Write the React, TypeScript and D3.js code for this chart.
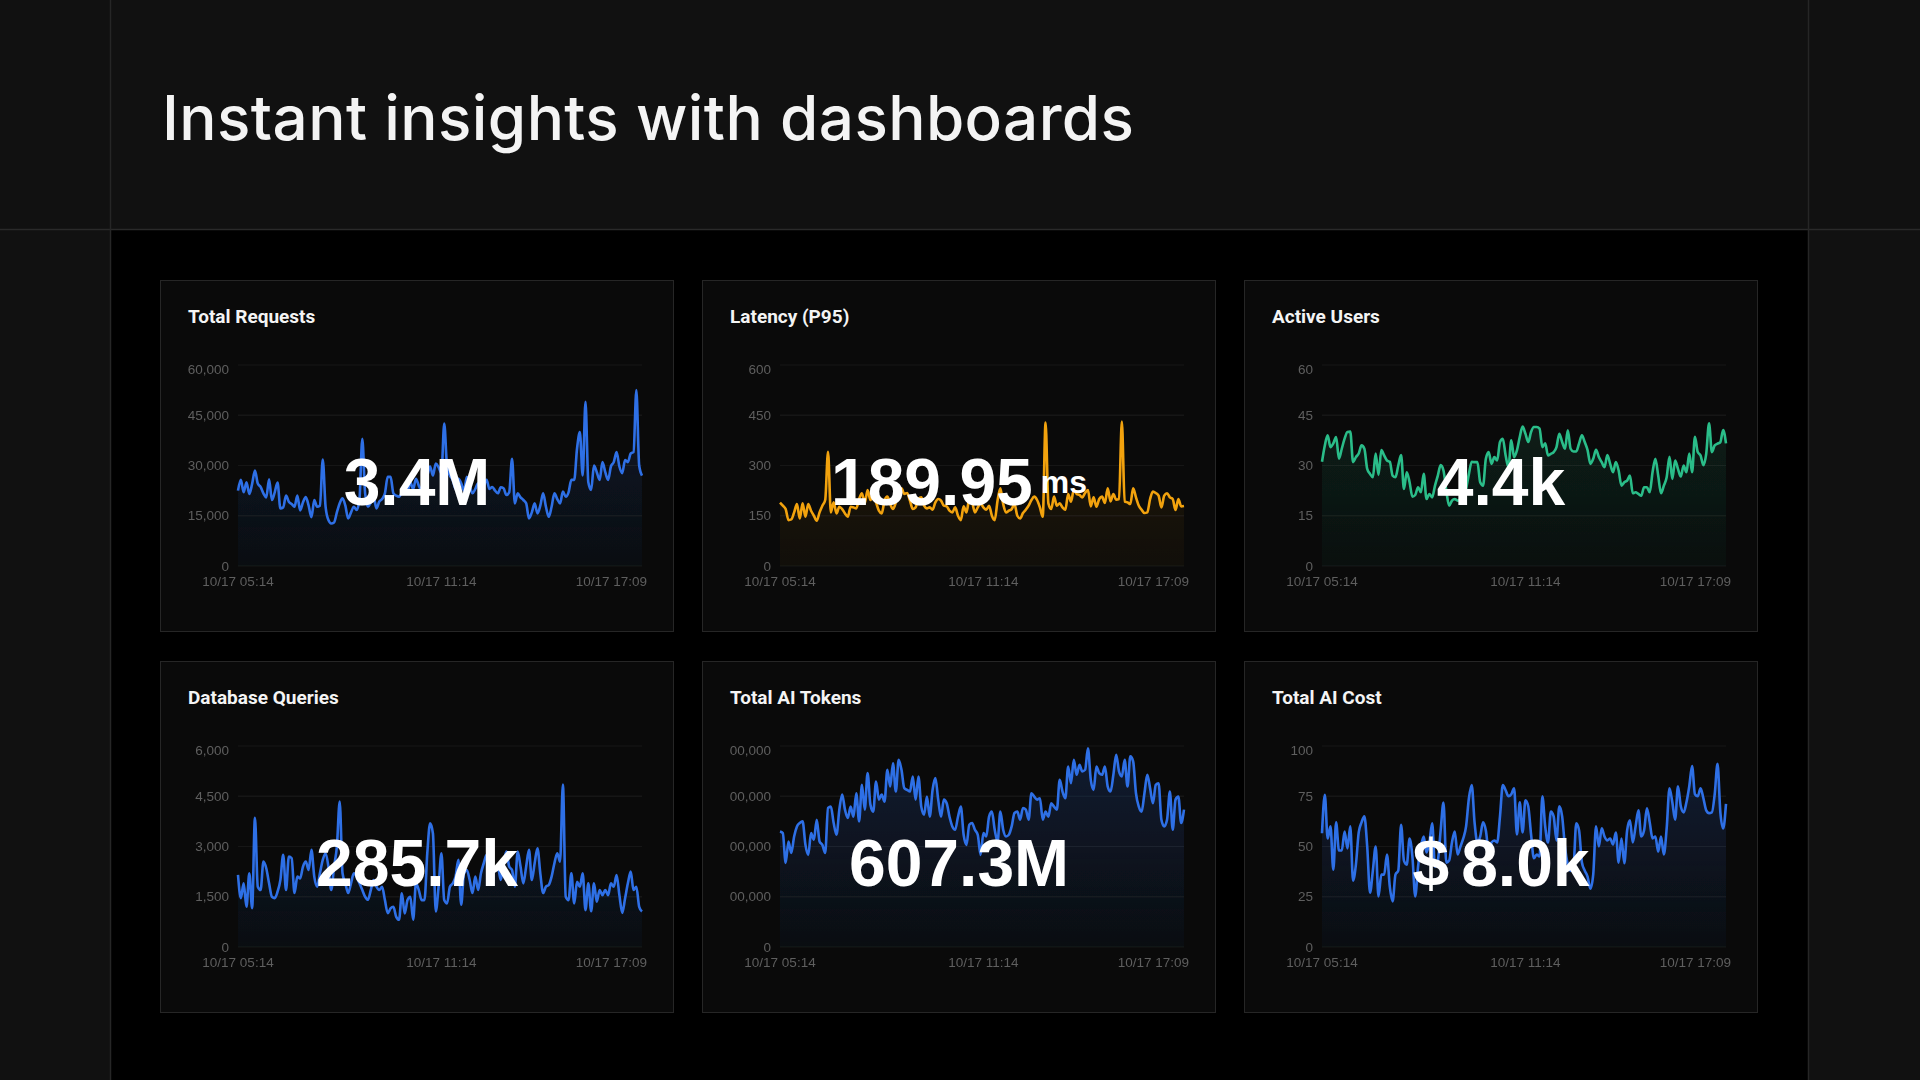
import React from "react";
import * as d3 from "d3";

const W = 1920;
const H = 1080;

// ---- data (144 points, 5-minute steps from 10/17 05:14 to 17:09) ----
const requestsK = [
  22.5, 25.7, 22, 25, 21.5, 24.5, 28.5, 24.6, 23.6, 21.7,
  20.5, 25.9, 19.7, 22, 24.9, 17.2, 17.5, 21, 19.2, 18.5,
  17.7, 21, 16.6, 19, 20.6, 18, 14.6, 19.7, 17.7, 18,
  31.8, 17.7, 13.7, 12.7, 13, 16, 18.7, 20.2, 18, 14.2,
  16, 17.7, 16.7, 20, 38, 21.7, 17.7, 19, 20.7, 17.2,
  19.2, 20, 21.7, 26.6, 26.6, 21.7, 21, 20.7, 22, 24,
  22.5, 25, 23, 26, 24, 22.5, 25.5, 27, 29.7, 27,
  30.6, 29.5, 27.7, 42.5, 29.7, 27, 25.7, 23, 26, 24.7,
  22.5, 26.6, 24, 21.7, 23, 24.7, 22.5, 24, 25.7, 23,
  23.6, 22.5, 21.7, 23.5, 23.2, 21.2, 22, 32, 18.7, 21.7,
  20.5, 19.7, 18.7, 14.2, 16, 18.7, 15.7, 18, 21.7, 17.7,
  14.7, 17.7, 21.7, 20, 18.7, 22.2, 20.7, 22, 25.7, 25.7,
  35, 40, 27, 49, 25, 22.7, 30, 28, 25.7, 31,
  28, 25.7, 29.7, 31, 34, 29.7, 27.7, 31.6, 31, 33.6,
  34, 52.5, 30, 27,
];

const latencyMs = [
  189, 180, 170, 137, 139, 160, 185, 142, 187, 147,
  185, 165, 150, 135, 160, 180, 197, 341, 160, 190,
  157, 177, 170, 157, 147, 177, 175, 172, 200, 217,
  187, 227, 197, 215, 190, 165, 157, 195, 207, 185,
  170, 190, 225, 232, 215, 218, 195, 170, 175, 200,
  205, 180, 172, 175, 168, 190, 200, 195, 180, 178,
  165, 160, 175, 150, 137, 178, 160, 200, 190, 160,
  175, 187, 175, 168, 180, 150, 137, 195, 232, 185,
  160, 165, 170, 185, 150, 142, 158, 168, 180, 197,
  207, 197, 175, 147, 428, 187, 170, 207, 180, 187,
  175, 168, 215, 192, 227, 215, 212, 205, 218, 227,
  178, 205, 177, 200, 207, 188, 232, 193, 215, 198,
  200, 431, 192, 190, 185, 232, 205, 180, 168, 158,
  160, 200, 222, 218, 210, 175, 210, 217, 205, 200,
  167, 200, 178, 179,
];

const activeUsers = [
  31.1, 36, 39, 35.5, 36.6, 38.5, 32, 35, 38, 40,
  40.1, 31, 32.5, 33.6, 36, 35, 29, 27.5, 26.5, 33.6,
  27.2, 34.6, 33, 31.5, 31.1, 27, 26.5, 30, 33.1, 23,
  28, 25, 20.7, 21.2, 23.5, 22, 27.5, 20, 21.5, 20.5,
  24, 27, 30.1, 28.5, 22.5, 18, 19.5, 20, 19.5, 20,
  20.5, 23, 27.5, 31.1, 31, 31, 25, 24, 32, 34,
  30.5, 32.5, 31.5, 37, 38, 33, 29.5, 37.5, 32.5, 34.5,
  38.5, 41.6, 39.5, 37, 40, 41.5, 41.5, 41, 35.5, 36.6,
  33, 33.5, 34, 35.5, 39.5, 37, 35, 40.5, 35, 34.2,
  34.2, 36.6, 39, 37, 34.6, 30.5, 32, 34.7, 32.5, 31,
  29.5, 33.1, 30.5, 28, 31, 28.5, 24, 25, 25.5, 27,
  21.7, 22, 21.5, 21, 23.5, 23.5, 22, 28, 32, 27,
  21.7, 24, 26.5, 32.6, 26, 31.5, 29, 26.7, 30, 28,
  33.6, 28, 38.6, 34, 33, 30.1, 33.5, 42.6, 34, 36,
  36.5, 37, 40.6, 36.6,
];

const dbQueries = [
  2150, 1460, 1900, 1200, 2200, 1160, 3860, 1800, 1700, 2550,
  2350, 1900, 1500, 1460, 1650, 2000, 2750, 1700, 2700, 2650,
  1610, 2100, 2050, 2400, 2550, 2300, 2900, 2100, 1800, 2200,
  2600, 2800, 2400, 1700, 2400, 3000, 4340, 2200, 1900, 1610,
  1900, 2200, 2100, 1900, 1700, 1500, 1410, 1700, 2000, 1800,
  1700, 1800, 1400, 1010, 1150, 1200, 900, 814, 1600, 1000,
  1400, 1500, 814, 1900, 1700, 1400, 1400, 2800, 3690, 3390,
  1060, 1800, 2800, 1400, 1300, 1800, 1900, 2100, 2600, 1260,
  2200, 2300, 2000, 1610, 2100, 1700, 2200, 2500, 2750, 2300,
  2200, 2300, 2400, 2000, 2500, 2850, 2400, 2300, 1800, 2850,
  2400, 1900, 2400, 2900, 2000, 2500, 2950, 2200, 1610, 1800,
  1850, 2100, 2500, 2800, 2550, 4850, 1500, 1400, 2200, 1300,
  1950, 1800, 2200, 1100, 1900, 1070, 1900, 1350, 1700, 1550,
  1700, 1550, 1900, 1800, 2150, 1550, 1020, 1450, 1900, 2250,
  1700, 1800, 1200, 1060,
];

const aiTokensM = [
  3.45, 3.4, 2.51, 3.15, 2.81, 3.3, 3.6, 3.7, 3.75, 3.05,
  2.75, 3.4, 3.2, 3.8, 3.15, 3.05, 2.81, 4.15, 4.19, 3.7,
  3.35, 4.1, 4.55, 4.1, 3.85, 4.19, 3.89, 4.59, 3.75, 4.84,
  4.1, 5.19, 4.25, 4.04, 4.94, 4.4, 4.55, 4.34, 5.29, 4.79,
  5.48, 4.64, 5.59, 5.29, 4.74, 4.69, 4.64, 5.09, 4.4, 5.09,
  4.19, 3.95, 4.49, 3.89, 4.69, 5.04, 4.4, 3.89, 4.4, 4.29,
  3.89, 3.6, 3.5, 3.89, 4.19, 3.35, 3.05, 3.65, 3.7, 3.5,
  3.35, 2.75, 3.4, 3.3, 3.89, 4.04, 3.5, 3.15, 4.04, 3.5,
  3.3, 3.35, 3.6, 4.0, 4.04, 3.8, 4.15, 4.1, 3.8, 4.59,
  4.49, 4.4, 4.44, 3.8, 4.04, 3.89, 4.29, 4.19, 4.1, 4.99,
  4.64, 4.44, 5.39, 4.89, 5.59, 5.14, 5.44, 5.24, 5.29, 5.93,
  4.99, 4.69, 5.39, 5.19, 5.14, 5.39, 4.79, 4.64, 5.14, 5.74,
  5.24, 5.09, 5.59, 4.79, 5.69, 5.54, 4.59, 4.19, 4.04, 4.59,
  5.14, 4.74, 4.29, 4.84, 4.89, 3.8, 3.6, 3.8, 4.64, 3.5,
  4.4, 4.49, 3.7, 4.1,
];

const aiCost = [
  56.6, 75.7, 54, 60, 38.4, 62, 48, 48, 57.5, 49,
  60, 33, 41, 57, 62, 65, 50, 27, 38, 50,
  25.2, 36, 36, 46, 30, 22.7, 36, 38, 60.8, 43,
  41, 54, 45, 25.2, 40, 50, 55, 47, 52, 61.6,
  40, 43, 58, 71.9, 42, 43, 52, 57.5, 46, 50,
  54, 60, 74, 80.6, 62, 52, 55, 62, 58, 48,
  52, 53, 52, 65, 80.6, 78, 75, 76, 79, 56,
  72, 57, 73, 70, 56, 44.2, 46, 45, 75, 60,
  52, 67.4, 65, 53, 70, 65, 50, 41, 38, 40,
  61.6, 58, 42, 38, 35, 29, 36, 60, 50, 59,
  55, 53, 54, 51, 57, 42, 54, 41.7, 58, 63,
  52, 60, 68, 55, 58, 69, 62, 54, 55, 47.5,
  55, 46, 59, 79, 72, 63.3, 80, 70, 67, 72,
  80, 90, 76, 75, 79, 74, 68, 66.6, 67, 76,
  91.1, 67, 59, 71.2,
];

const panelTitles = [
  "Total Requests",
  "Latency (P95)",
  "Active Users",
  "Database Queries",
  "Total AI Tokens",
  "Total AI Cost",
];
const panelSeries = [requestsK, latencyMs, activeUsers, dbQueries, aiTokensM, aiCost];
const bigValues = ["3.4M", "189.95", "4.4k", "285.7k", "607.3M", "8.0k"];
const valuePrefixes = ["", "", "", "", "", "$"];
const valueSuffixes = ["", "ms", "", "", "", ""];
const yMaxes = [60, 600, 60, 6000, 6, 100];
const yTickLabels = [
  ["0", "15,000", "30,000", "45,000", "60,000"],
  ["0", "150", "300", "450", "600"],
  ["0", "15", "30", "45", "60"],
  ["0", "1,500", "3,000", "4,500", "6,000"],
  ["0", "00,000", "00,000", "00,000", "00,000"],
  ["0", "25", "50", "75", "100"],
];
const lineColors = ["#2f6fe6", "#f2a20f", "#2bbd89", "#2f6fe6", "#2f6fe6", "#2f6fe6"];
const fillOpacityTop = [0.15, 0.09, 0.11, 0.15, 0.17, 0.17];

const startTime = new Date(2024, 9, 17, 5, 14);
const tickTimes = [
  new Date(2024, 9, 17, 5, 14),
  new Date(2024, 9, 17, 11, 14),
  new Date(2024, 9, 17, 17, 9),
];

// ---- layout ----
const PANEL_W = 514;
const PANEL_H = 352;
const panelXs = [160, 702, 1244];
const panelYs = [280, 661];
const PL = 78, PR = 482, PT = 85, PB = 286;

const fmtTime = d3.timeFormat("%m/%d %H:%M");

function Panel({ idx, x, y }: { idx: number; x: number; y: number }) {
  const data = panelSeries[idx];
  const times = data.map((_, i) => d3.timeMinute.offset(startTime, 5 * i));
  const xs = d3.scaleTime().domain([times[0], times[times.length - 1]]).range([PL, PR]);
  const ys = d3.scaleLinear().domain([0, yMaxes[idx]]).range([PB, PT]);
  const pts = data.map((v, i) => [times[i], v] as [Date, number]);
  const line = d3
    .line<[Date, number]>()
    .x((d) => xs(d[0]))
    .y((d) => ys(d[1]))
    .curve(d3.curveMonotoneX);
  const area = d3
    .area<[Date, number]>()
    .x((d) => xs(d[0]))
    .y0(ys(0))
    .y1((d) => ys(d[1]))
    .curve(d3.curveMonotoneX);
  const tickVals = d3.range(5).map((k) => (yMaxes[idx] * k) / 4);
  const color = lineColors[idx];
  const gid = `grad${idx}`;
  const fontSans = "'Liberation Sans', Arial, Helvetica, sans-serif";
  return (
    <g transform={`translate(${x},${y})`}>
      <defs>
        <linearGradient id={gid} x1="0" y1="0" x2="0" y2="1">
          <stop offset="0%" stopColor={color} stopOpacity={fillOpacityTop[idx]} />
          <stop offset="100%" stopColor={color} stopOpacity={0.03} />
        </linearGradient>
      </defs>
      <rect x={0.5} y={0.5} width={PANEL_W - 1} height={PANEL_H - 1} fill="#0a0a0a" stroke="#262626" strokeWidth={1} />
      <text x={28} y={43} fill="#f4f4f4" fontFamily="Roboto, 'Liberation Sans', Arial, sans-serif" fontWeight={700} fontSize={19}>
        {panelTitles[idx]}
      </text>
      <g filter="url(#soft)">
        {tickVals.map((t, k) => (
          <line key={`g${k}`} x1={PL} x2={PR} y1={ys(t)} y2={ys(t)} stroke="#181818" strokeWidth={1.2} />
        ))}
        <path d={area(pts) || ""} fill={`url(#${gid})`} />
        <path d={line(pts) || ""} fill="none" stroke={color} strokeWidth={2.6} strokeLinejoin="round" />
        {tickVals.map((t, k) => (
          <text
            key={`yl${k}`}
            x={PL - 9}
            y={ys(t) + (k === 4 ? 4 : 0)}
            dy="0.35em"
            textAnchor="end"
            fill="#5e5e5e"
            fontFamily={fontSans}
            fontSize={13.5}
          >
            {yTickLabels[idx][k]}
          </text>
        ))}
        {tickTimes.map((t, k) => (
          <text
            key={`xl${k}`}
            x={k === tickTimes.length - 1 ? PR + 5 : xs(t)}
            y={PB + 20}
            textAnchor={k === tickTimes.length - 1 ? "end" : "middle"}
            fill="#5e5e5e"
            fontFamily={fontSans}
            fontSize={13.5}
          >
            {fmtTime(t)}
          </text>
        ))}
      </g>
      <text
        x={PANEL_W / 2}
        y={225}
        textAnchor="middle"
        fill="#ffffff"
        fontFamily={fontSans}
        fontWeight={700}
        fontSize={66}
      >
        {valuePrefixes[idx] ? <tspan>{valuePrefixes[idx]}</tspan> : null}
        <tspan dx={valuePrefixes[idx] ? 12 : 0}>{bigValues[idx]}</tspan>
        {valueSuffixes[idx] ? (
          <tspan dx={8} dy={-12} fontSize={32}>
            {valueSuffixes[idx]}
          </tspan>
        ) : null}
      </text>
    </g>
  );
}

export default function App() {
  const panels: { idx: number; x: number; y: number }[] = [];
  panelYs.forEach((py, r) =>
    panelXs.forEach((px, c) => panels.push({ idx: r * 3 + c, x: px, y: py }))
  );
  return (
    <div style={{ position: "fixed", left: 0, top: 0, width: W, height: H, background: "#111" }}>
      <svg width={W} height={H} viewBox={`0 0 ${W} ${H}`} style={{ display: "block" }}>
        <defs>
          <filter id="soft" x="-5%" y="-5%" width="110%" height="110%">
            <feGaussianBlur stdDeviation={0.55} />
          </filter>
        </defs>
        <rect x={0} y={0} width={W} height={H} fill="#111111" />
        <rect x={110} y={229} width={1808 - 110} height={H - 229} fill="#000000" />
        <line x1={0} x2={W} y1={229.5} y2={229.5} stroke="#2a2a2a" strokeWidth={1.5} />
        <line x1={110.5} x2={110.5} y1={0} y2={H} stroke="#262626" strokeWidth={1.5} />
        <line x1={1808.5} x2={1808.5} y1={0} y2={H} stroke="#262626" strokeWidth={1.5} />
        <text
          x={162}
          y={140}
          fill="#f4f4f4"
          fontFamily="Inter, 'Noto Sans', sans-serif"
          fontWeight={500}
          fontSize={62}
          letterSpacing={0.4}
        >
          Instant insights with dashboards
        </text>
        {panels.map((p) => (
          <Panel key={p.idx} idx={p.idx} x={p.x} y={p.y} />
        ))}
      </svg>
    </div>
  );
}
